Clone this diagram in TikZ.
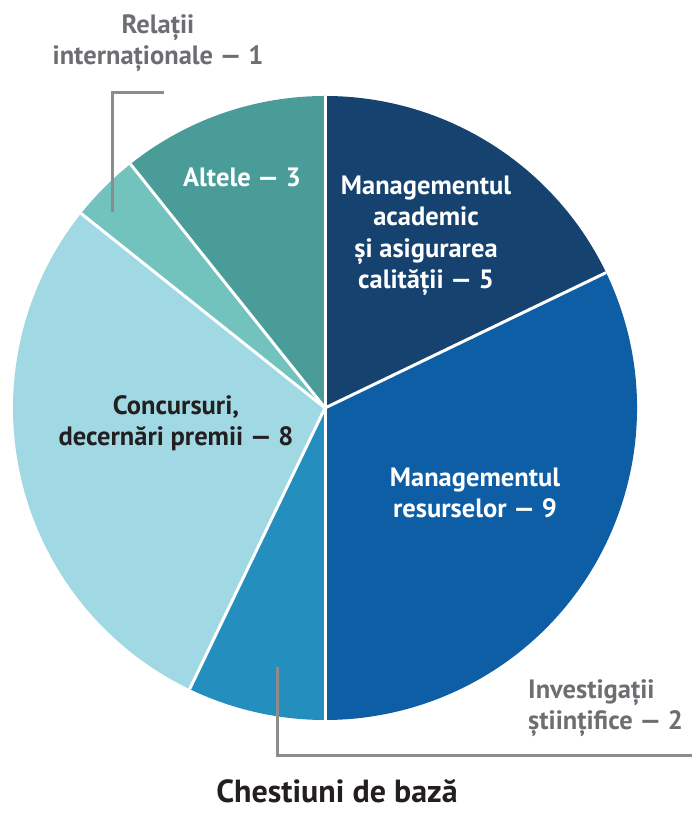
\documentclass[tikz,border=0pt]{standalone}
\usepackage{fontspec}
\setmainfont{PT Sans}
\definecolor{cAcad}{HTML}{15426F}
\definecolor{cRes}{HTML}{0E5EA6}
\definecolor{cInv}{HTML}{248FBE}
\definecolor{cCon}{HTML}{A0D9E4}
\definecolor{cRel}{HTML}{72C2BE}
\definecolor{cAlt}{HTML}{4A9C98}
\definecolor{cGreyText}{HTML}{6D6E71}
\definecolor{cLead}{HTML}{8C8C8C}
\definecolor{cTitle}{HTML}{231F20}
\begin{document}
\begin{tikzpicture}[x=1pt,y=1pt,
  inlabel/.style={text=white,font=\fontsize{26.5}{31.5}\selectfont\bfseries,align=center,inner sep=0pt},
  outlabel/.style={text=cGreyText,font=\fontsize{26.5}{31}\selectfont\bfseries,inner sep=0pt},
  leader/.style={draw=cLead,line width=3pt},
  sep/.style={draw=white,line width=3pt}]
\useasboundingbox (0,0) rectangle (697,813);
\coordinate (O) at (325,405);
\def\R{312}
% slices
\fill[cAcad] (O) -- ++(90:\R) arc[start angle=90,end angle=25.714,radius=\R] -- cycle;
\fill[cRes] (O) -- ++(25.714:\R) arc[start angle=25.714,end angle=-90,radius=\R] -- cycle;
\fill[cInv] (O) -- ++(-90:\R) arc[start angle=-90,end angle=-115.714,radius=\R] -- cycle;
\fill[cCon] (O) -- ++(-115.714:\R) arc[start angle=-115.714,end angle=-218.571,radius=\R] -- cycle;
\fill[cRel] (O) -- ++(-218.571:\R) arc[start angle=-218.571,end angle=-231.429,radius=\R] -- cycle;
\fill[cAlt] (O) -- ++(-231.429:\R) arc[start angle=-231.429,end angle=-270,radius=\R] -- cycle;
% separators
\foreach \a in {90,25.714,-90,-115.714,-218.571,-231.429}
  \draw[sep] (O) -- ++(\a:\R);
% labels inside
\node[inlabel] (acad) at (426,577) {Managementul\\academic\\și asigurarea\\calității — 5};
\node[inlabel] (res) at (475,320) {Managementul\\resurselor — 9};
\node[inlabel,text=cTitle] (con) at (176,390) {Concursuri,\\decernări premii — 8};
\node[inlabel,anchor=base] (alt) at (242,626) {Altele — 3};
% outside labels
\node[outlabel,align=center] (rel) at (158,770) {Relații\\internaționale — 1};
\node[outlabel,align=left,anchor=west] (inv) at (528,105) {Investigații\\științifice — 2};
% leaders
\coordinate (relA) at (112,601);
\coordinate (relB) at (112,720);
\coordinate (relC) at (164,720);
\draw[leader] (relA) -- (relB) -- (relC);
\coordinate (invA) at (277,146);
\coordinate (invB) at (277,57);
\coordinate (invC) at (692,57);
\draw[leader] (invA) -- (invB) -- (invC);
% title
\node[text=cTitle,font=\fontsize{32}{38}\selectfont\bfseries,inner sep=0pt,anchor=base] (title) at (337,10) {Chestiuni de bază};
\end{tikzpicture}
\end{document}
